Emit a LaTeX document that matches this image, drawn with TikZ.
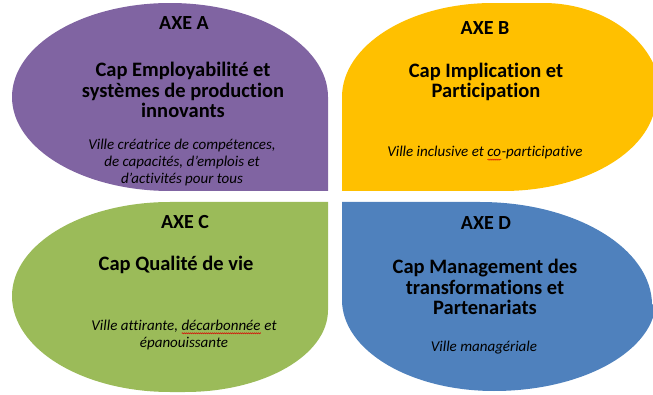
\documentclass[tikz,border=0pt]{standalone}
\usepackage{fontspec}
\setmainfont{Carlito}[Ligatures=NoCommon]
\usetikzlibrary{decorations.pathmorphing}
\newsavebox\spellbox
\newlength\spellwd
\newcommand\spellwave[1]{\sbox\spellbox{#1}\setlength\spellwd{\wd\spellbox}\rlap{\usebox\spellbox}\tikz[baseline=0pt]\draw[red!85!black,line width=0.45pt,decorate,decoration={zigzag,segment length=2pt,amplitude=0.6pt}] (0pt,-2.8pt) -- (\spellwd,-2.8pt);}
\definecolor{axeApurple}{HTML}{8064A2}
\definecolor{axeByellow}{HTML}{FFC000}
\definecolor{axeCgreen}{HTML}{9BBB59}
\definecolor{axeDblue}{HTML}{4F81BD}
\tikzset{
  axetitle/.style={inner sep=0pt, font=\bfseries\fontsize{20}{20}\selectfont},
  captext/.style={inner sep=0pt, align=center, font=\bfseries\fontsize{20.5}{20.5}\selectfont},
  villetext/.style={inner sep=0pt, align=center, font=\itshape\fontsize{15}{17}\selectfont}
}
\begin{document}
\begin{tikzpicture}[x=1pt,y=-1pt]
\useasboundingbox (0,0) rectangle (653,395);
\begin{scope}
\clip (0,4) rectangle (653,395);
% Axe A (square corner bottom-right)
\fill[axeApurple] (328,191) -- (170,191)
  arc[start angle=90,end angle=180,x radius=158,y radius=94]
  arc[start angle=180,end angle=270,x radius=158,y radius=94]
  arc[start angle=270,end angle=360,x radius=158,y radius=94] -- cycle;
% Axe B (square corner bottom-left)
\fill[axeByellow] (342,191) -- (342,97)
  arc[start angle=180,end angle=270,x radius=151,y radius=94]
  -- (543,3)
  arc[start angle=270,end angle=360,x radius=118,y radius=94]
  -- (656,97)
  arc[start angle=0,end angle=90,x radius=153,y radius=94] -- cycle;
% Axe C (square corner top-right)
\fill[axeCgreen] (328,202) -- (328,310)
  arc[start angle=0,end angle=90,x radius=143,y radius=82]
  -- (170,392)
  arc[start angle=90,end angle=180,x radius=158,y radius=96]
  arc[start angle=180,end angle=270,x radius=158,y radius=94] -- cycle;
% Axe D (square corner top-left)
\fill[axeDblue] (342,202) -- (480,202)
  arc[start angle=270,end angle=360,x radius=172,y radius=103]
  -- (656,300)
  arc[start angle=0,end angle=90,x radius=162,y radius=91]
  arc[start angle=90,end angle=180,x radius=152,y radius=91] -- cycle;
\end{scope}
% Texts A
\node[axetitle] (axeA) at (184,23) {AXE A};
\node[captext] (capA) at (183,90) {Cap Employabilité et\\systèmes de production\\innovants};
\node[villetext] (vilA) at (182,162.5) {Ville créatrice de compétences,\\de capacités, d’emplois et\\d’activités pour tous};
% Texts B
\node[axetitle] (axeB) at (485,28) {AXE B};
\node[captext] (capB) at (486,82) {Cap Implication et\\Participation};
\node[villetext] (vilB) at (485,153.5) {Ville inclusive et \spellwave{co}-participative};
% Texts C
\node[axetitle] (axeC) at (185,222) {AXE C};
\node[captext] (capC) at (176,265) {Cap Qualité de vie};
\node[villetext] (vilC) at (184,335) {Ville attirante, \spellwave{décarbonnée} et\\épanouissante};
% Texts D
\node[axetitle] (axeD) at (486,223) {AXE D};
\node[captext] (capD) at (485,287) {Cap Management des\\transformations et\\Partenariats};
\node[villetext] (vilD) at (484,347.5) {Ville managériale};
\end{tikzpicture}
\end{document}
